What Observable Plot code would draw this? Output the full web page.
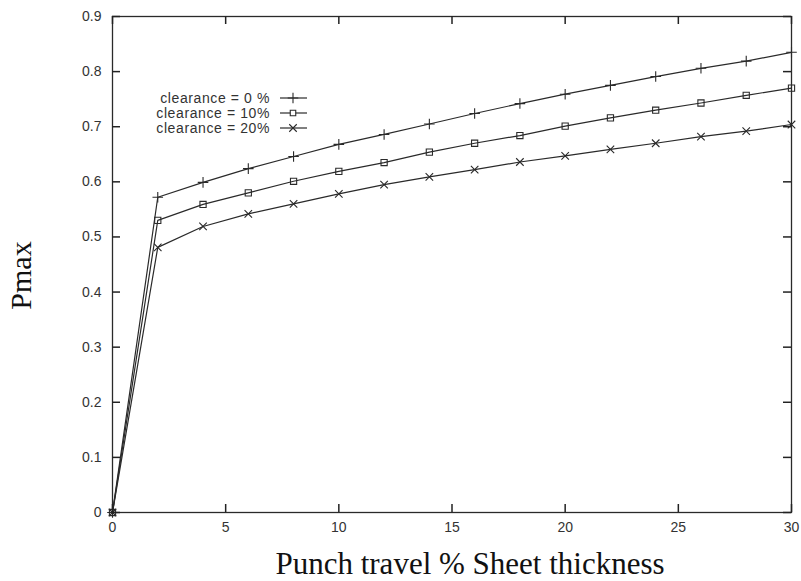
<!DOCTYPE html>
<html>
<head>
<meta charset="utf-8">
<script src="https://cdn.jsdelivr.net/npm/d3@7"></script>
<script src="https://cdn.jsdelivr.net/npm/@observablehq/plot@0.6"></script>
<style>
  html, body { margin: 0; padding: 0; background: #fff; }
  #wrap { position: relative; width: 801px; height: 581px; }
  #legend { position: absolute; left: 0; top: 0; pointer-events: none; }
</style>
</head>
<body>
<div id="wrap"></div>
<script>
// ---- data ----
const xValues = [0, 2, 4, 6, 8, 10, 12, 14, 16, 18, 20, 22, 24, 26, 28, 30];
const seriesNames = ["clearance = 0 %", "clearance = 10%", "clearance = 20%"];
const clearance0 = [0, 0.572, 0.599, 0.624, 0.646, 0.668, 0.686, 0.705, 0.724, 0.742, 0.759, 0.775, 0.791, 0.806, 0.819, 0.835];
const clearance10 = [0, 0.530, 0.559, 0.580, 0.601, 0.619, 0.635, 0.654, 0.670, 0.684, 0.701, 0.716, 0.730, 0.743, 0.757, 0.770];
const clearance20 = [0, 0.481, 0.519, 0.542, 0.560, 0.578, 0.595, 0.609, 0.622, 0.636, 0.647, 0.659, 0.670, 0.682, 0.692, 0.704];
const xTicks = [0, 5, 10, 15, 20, 25, 30];
const yTicks = [0, 0.1, 0.2, 0.3, 0.4, 0.5, 0.6, 0.7, 0.8, 0.9];
const yTickLabels = ["0", "0.1", "0.2", "0.3", "0.4", "0.5", "0.6", "0.7", "0.8", "0.9"];
const xLabel = "Punch travel % Sheet thickness";
const yLabel = "Pmax";
const symbolNames = ["plus", "square", "times"];

// ---- build table ----
const seriesValues = [clearance0, clearance10, clearance20];
const data = [];
seriesNames.forEach((name, i) => {
  xValues.forEach((x, j) => data.push({series: name, x, y: seriesValues[i][j]}));
});

const W = 801, H = 581, ML = 112, MR = 10, MT = 16, MB = 69;
const FH = H - MT - MB, FW = W - ML - MR, TICK = 8;
const ink = "#2a2a2a";
const sans = "'Liberation Sans', Arial, Helvetica, sans-serif";
const serif = "'Liberation Serif', 'Times New Roman', serif";
const R = 3.5;

const chart = Plot.plot({
  width: W,
  height: H,
  marginLeft: ML,
  marginRight: MR,
  marginTop: MT,
  marginBottom: MB,
  x: {domain: [0, 30]},
  y: {domain: [0, 0.9]},
  symbol: {domain: seriesNames, range: symbolNames},
  marks: [
    Plot.frame({stroke: ink, strokeWidth: 1.3}),
    // tick labels
    Plot.axisX({anchor: "bottom", ticks: xTicks, tickSize: 0, tickPadding: 10, tickFormat: d => String(d),
      fontSize: 14, fontFamily: sans, fill: "#333", label: null}),
    Plot.axisY({anchor: "left", ticks: yTicks, tickSize: 0, tickPadding: 11,
      tickFormat: d => yTickLabels[yTicks.indexOf(d)], fontSize: 14, fontFamily: sans, fill: "#333", label: null}),
    // data
    Plot.line(data, {x: "x", y: "y", z: "series", stroke: ink, strokeWidth: 1.2}),
    Plot.dot(data, {x: "x", y: "y", symbol: "series", stroke: ink, strokeWidth: 1.1, r: R, fill: "none"}),
    // inward tick marks on all four sides (short rules trimmed by insets)
    Plot.ruleX(xTicks, {x: d => d, insetTop: FH - TICK, stroke: "#222", strokeWidth: 1.5}),
    Plot.ruleX(xTicks, {x: d => d, insetBottom: FH - TICK, stroke: "#222", strokeWidth: 1.5}),
    Plot.ruleY(yTicks, {y: d => d, insetRight: FW - TICK, stroke: "#222", strokeWidth: 1.5}),
    Plot.ruleY(yTicks, {y: d => d, insetLeft: FW - TICK, stroke: "#222", strokeWidth: 1.5}),
    // axis titles
    Plot.text([xLabel], {frameAnchor: "bottom", text: d => d, textAnchor: "middle", lineAnchor: "middle",
      dx: 18, dy: 52, fontSize: 31, fontFamily: serif, fill: "#111"}),
    Plot.text([yLabel], {frameAnchor: "left", text: d => d, rotate: -90, textAnchor: "middle", lineAnchor: "middle",
      dx: -91, dy: 11, fontSize: 30, fontFamily: serif, fill: "#111"})
  ]
});

const wrap = document.getElementById("wrap");
wrap.appendChild(chart);

// ---- legend overlay ----
const symbolFns = {plus: d3.symbolPlus, square: d3.symbolSquare2, times: d3.symbolTimes};
const leg = d3.select(wrap).append("svg")
  .attr("id", "legend").attr("width", W).attr("height", H);
const rows = leg.selectAll("g").data(seriesNames).join("g")
  .attr("transform", (d, i) => `translate(0,${98 + i * 15})`);
rows.append("text")
  .attr("x", 270).attr("dy", "0.35em").attr("text-anchor", "end")
  .attr("font-family", sans).attr("font-size", 14).attr("letter-spacing", 0.6).attr("fill", "#333")
  .text(d => d);
rows.append("line")
  .attr("x1", 280).attr("x2", 307).attr("stroke", ink).attr("stroke-width", 1.2);
rows.append("path")
  .attr("transform", "translate(293,0)")
  .attr("d", (d, i) => d3.symbol(symbolFns[symbolNames[i]], Math.PI * R * R)())
  .attr("fill", "#fff").attr("stroke", ink).attr("stroke-width", 1.1);
</script>
</body>
</html>
